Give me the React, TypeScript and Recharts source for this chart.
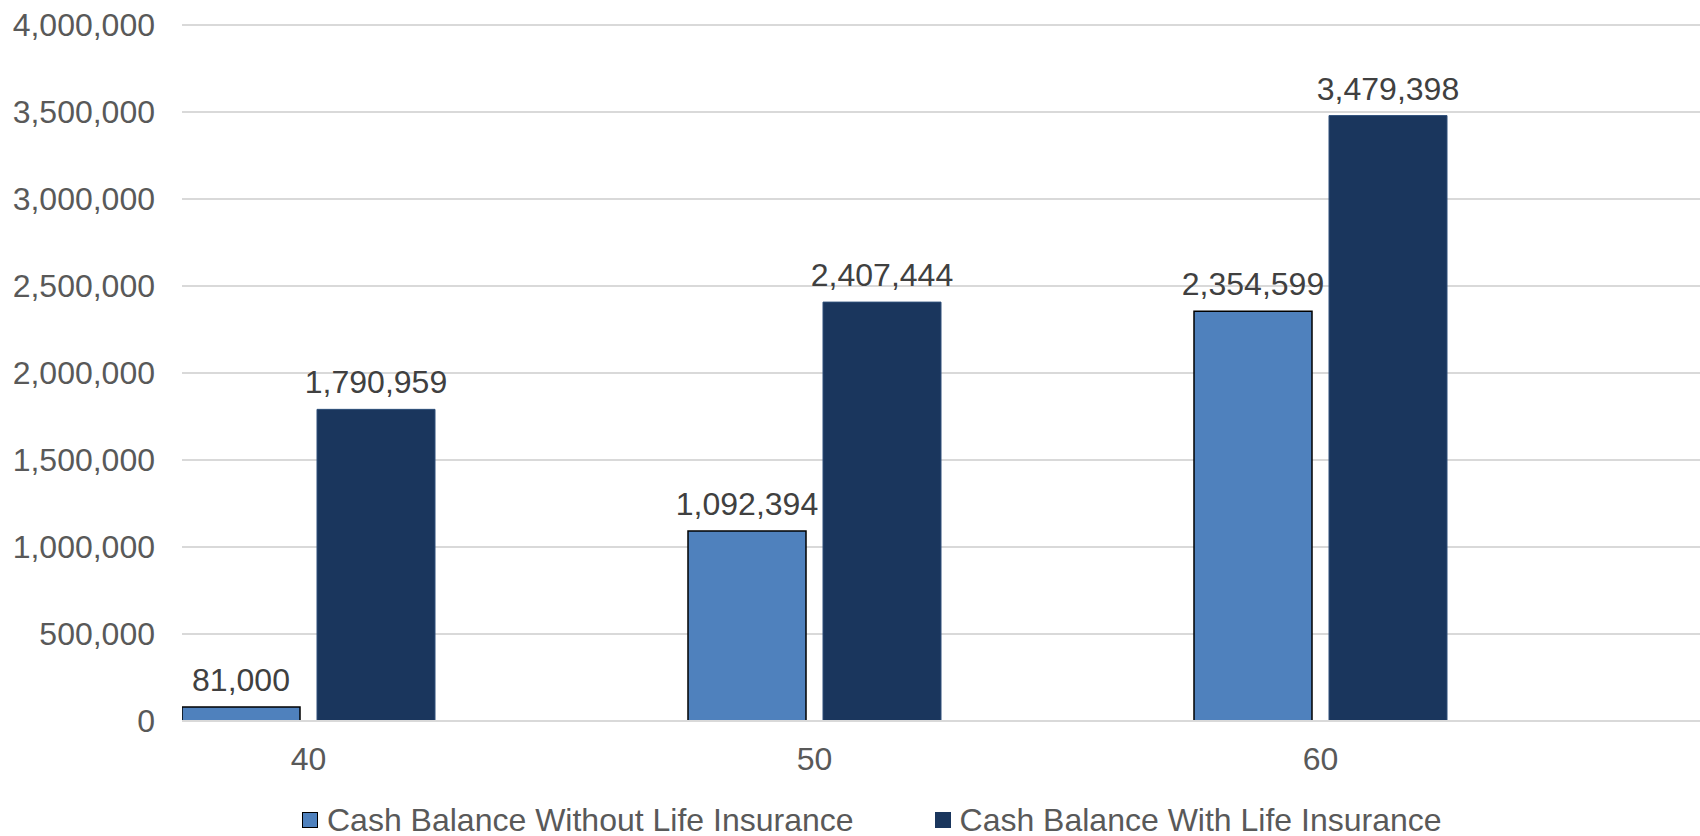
import React from "react";
import { BarChart, Bar, XAxis, YAxis, CartesianGrid, Legend, LabelList } from "recharts";

// Age milestones on the category axis
const ages = [40, 50, 60];
// Cash balance projections for each age
const withoutLifeInsurance = [81000, 1092394, 2354599];
const withLifeInsurance = [1790959, 2407444, 3479398];
// Value axis ticks
const yTicks = [0, 500000, 1000000, 1500000, 2000000, 2500000, 3000000, 3500000, 4000000];

const seriesNames = ["Cash Balance Without Life Insurance", "Cash Balance With Life Insurance"];

const data = ages.map((age, i) => ({
  age,
  without: withoutLifeInsurance[i],
  with: withLifeInsurance[i],
}));

const FONT = "Arial, 'Liberation Sans', sans-serif";
const LIGHT = "#4F81BD";
const DARK = "#1A365D";
const AXIS_TEXT = "#595959";
const LABEL_TEXT = "#404040";
const GRID = "#D9D9D9";

const fmt = (v: number) => v.toLocaleString("en-US");

const legendItems = [
  { name: seriesNames[0], fill: LIGHT, stroke: "#000000" },
  { name: seriesNames[1], fill: DARK, stroke: DARK },
];

const LegendContent = () => (
  <div
    style={{
      display: "flex",
      alignItems: "center",
      height: 32,
      paddingLeft: 302,
      fontFamily: FONT,
      fontSize: 32,
      color: AXIS_TEXT,
      whiteSpace: "nowrap",
    }}
  >
    {legendItems.map((item, i) => (
      <div key={item.name} style={{ display: "flex", alignItems: "center", marginRight: i === 0 ? 81 : 0 }}>
        <span
          style={{
            display: "inline-block",
            width: 16,
            height: 16,
            boxSizing: "border-box",
            background: item.fill,
            border: `1.5px solid ${item.stroke}`,
            marginRight: 9,
          }}
        />
        <span>{item.name}</span>
      </div>
    ))}
  </div>
);

export default function App() {
  return (
    <div style={{ position: "absolute", left: 0, top: 0, background: "#fff" }}>
      <BarChart
        width={1700}
        height={836}
        data={data}
        margin={{ top: 25, right: 0, left: 0, bottom: 0 }}
        barCategoryGap="25%"
        barGap={17}
      >
        <CartesianGrid vertical={false} stroke={GRID} strokeWidth={2} />
        <XAxis
          dataKey="age"
          type="number"
          domain={[37.5, 67.5]}
          ticks={ages}
          allowDataOverflow
          height={83}
          tickLine={false}
          tickSize={6}
          tickMargin={20}
          axisLine={{ stroke: GRID, strokeWidth: 2 }}
          tick={{ fill: AXIS_TEXT, fontSize: 32, fontFamily: FONT }}
        />
        <YAxis
          width={182}
          domain={[0, 4000000]}
          ticks={yTicks}
          axisLine={false}
          tickLine={false}
          tickSize={6}
          tickMargin={21}
          tickFormatter={fmt}
          tick={{ fill: AXIS_TEXT, fontSize: 32, fontFamily: FONT }}
        />
        <Legend verticalAlign="bottom" height={32} content={<LegendContent />} />
        <Bar dataKey="without" name={seriesNames[0]} fill={LIGHT} stroke="#000000" strokeWidth={1.5} isAnimationActive={false}>
          <LabelList
            dataKey="without"
            position="top"
            offset={16}
            formatter={(v: number) => fmt(v)}
            style={{ fill: LABEL_TEXT, fontSize: 32, fontFamily: FONT }}
          />
        </Bar>
        <Bar dataKey="with" name={seriesNames[1]} fill={DARK} stroke="#2E4F7A" strokeWidth={1} isAnimationActive={false}>
          <LabelList
            dataKey="with"
            position="top"
            offset={16}
            formatter={(v: number) => fmt(v)}
            style={{ fill: LABEL_TEXT, fontSize: 32, fontFamily: FONT }}
          />
        </Bar>
      </BarChart>
    </div>
  );
}
